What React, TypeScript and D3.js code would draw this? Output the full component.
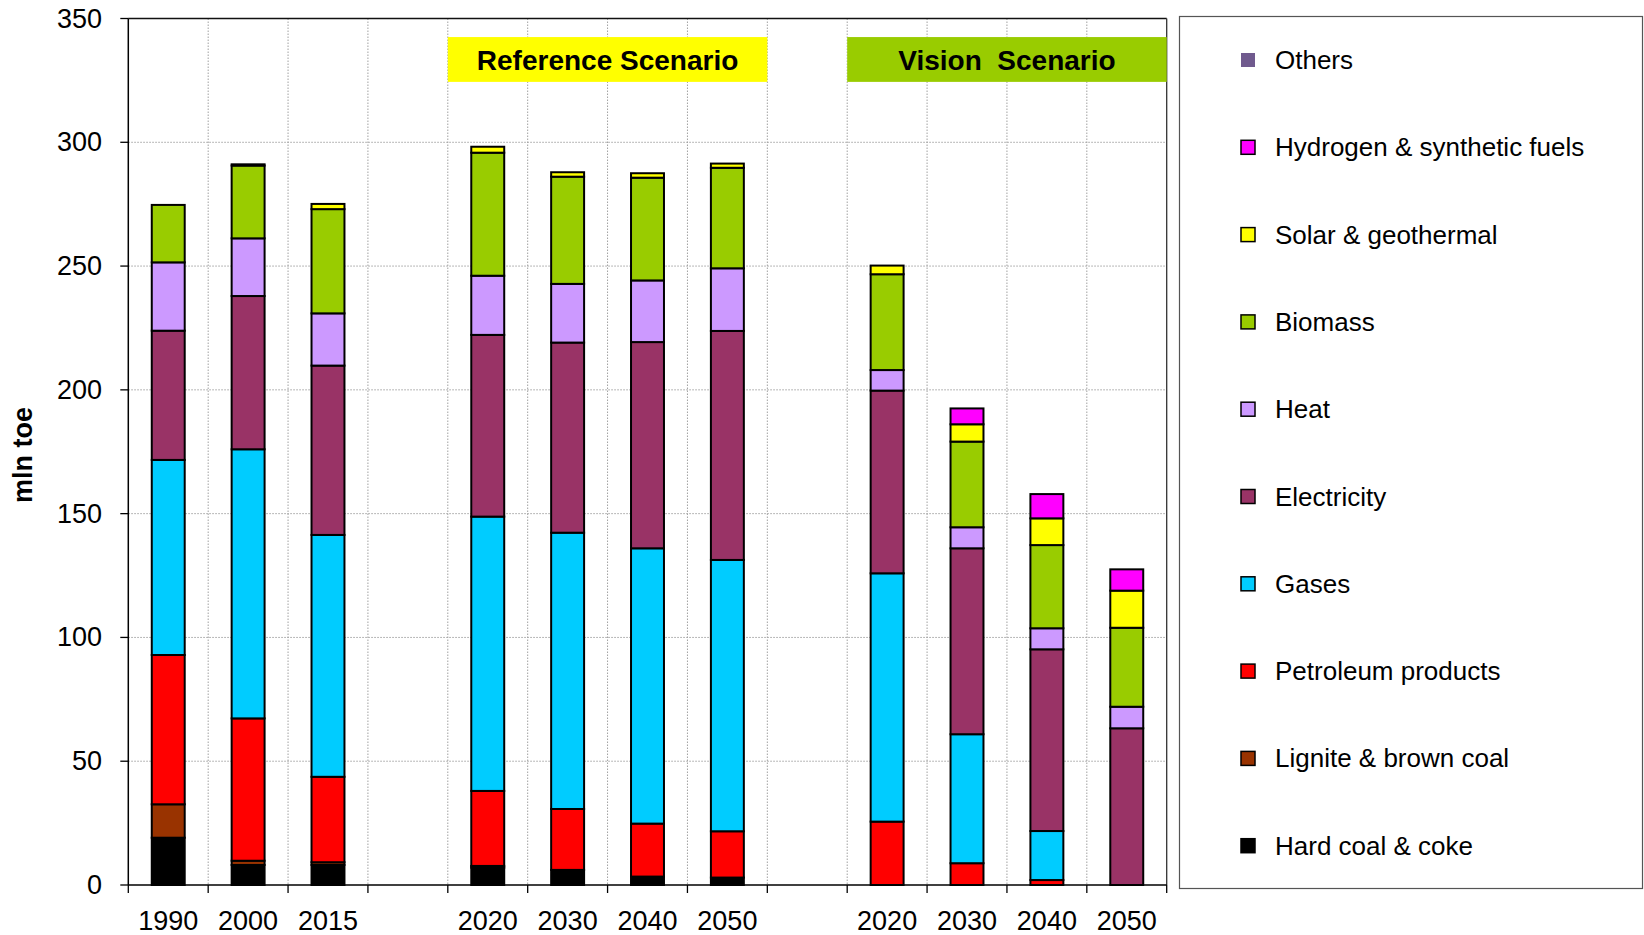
import React from "react";
import * as d3 from "d3";

// Final energy demand by carrier, mln toe
const slots = ["1990", "2000", "2015", "", "2020", "2030", "2040", "2050", "", "2020", "2030", "2040", "2050"];

const hardCoal = [19.1, 8.1, 8.1, 0, 7.0, 6.1, 3.4, 3.0, 0, 0, 0, 0, 0];
const lignite = [13.5, 1.7, 1.1, 0, 0.7, 0, 0, 0, 0, 0, 0, 0, 0];
const petroleum = [60.3, 57.5, 34.5, 0, 30.3, 24.6, 21.4, 18.7, 0, 25.6, 8.8, 2.0, 0];
const gases = [78.8, 108.7, 97.7, 0, 110.8, 111.6, 111.2, 109.6, 0, 100.3, 52.1, 19.8, 0];
const electricity = [52.2, 61.9, 68.4, 0, 73.4, 76.8, 83.3, 92.5, 0, 73.8, 75.1, 73.4, 63.3];
const heat = [27.6, 23.3, 21.1, 0, 23.9, 23.7, 24.9, 25.3, 0, 8.3, 8.5, 8.5, 8.7];
const biomass = [23.2, 29.4, 42.1, 0, 49.7, 43.3, 41.5, 40.6, 0, 38.7, 34.6, 33.6, 31.9];
const solar = [0, 0.5, 2.1, 0, 2.4, 1.8, 1.8, 1.7, 0, 3.5, 7.0, 10.8, 15.0];
const hydrogen = [0, 0, 0, 0, 0, 0, 0, 0, 0, 0, 6.4, 9.8, 8.6];
const others = [0, 0, 0, 0, 0, 0, 0, 0, 0, 0, 0, 0, 0];

const seriesNames = [
  "Hard coal & coke",
  "Lignite & brown coal",
  "Petroleum products",
  "Gases",
  "Electricity",
  "Heat",
  "Biomass",
  "Solar & geothermal",
  "Hydrogen & synthetic fuels",
  "Others",
];
const seriesValues = [hardCoal, lignite, petroleum, gases, electricity, heat, biomass, solar, hydrogen, others];
const seriesColors = ["#000000", "#993300", "#FF0000", "#00CCFF", "#993366", "#CC99FF", "#99CC00", "#FFFF00", "#FF00FF", "#705A8E"];

const yTicks = [0, 50, 100, 150, 200, 250, 300, 350];

const scenarios = [
  { label: "Reference Scenario", from: 4, to: 8, color: "#FFFF00" },
  { label: "Vision  Scenario", from: 9, to: 13, color: "#99CC00" },
];
const scenarioBand = [324.4, 342.5];

const FONT = "'Liberation Sans', Arial, Helvetica, sans-serif";

export default function App() {
  const W = 1644;
  const H = 935;
  const left = 128.3;
  const right = 1166.7;
  const top = 18.5;
  const bottom = 885;

  const idx = slots.map((_, i) => i);
  const x = d3
    .scaleBand<number>()
    .domain(idx)
    .range([left, right])
    .paddingInner(0.5875)
    .paddingOuter(0.5875 / 2);
  const step = x.step();
  const boundary = (i: number) => left + i * step;

  const y = d3.scaleLinear().domain([0, 350]).range([bottom, top]);

  const keys = seriesNames.map((_, k) => k);
  const table = idx.map((i) => {
    const row: Record<string, number> = {};
    keys.forEach((k) => (row[k] = seriesValues[k][i]));
    return row;
  });
  const stack = d3.stack<Record<string, number>>().keys(keys.map(String));
  const layers = stack(table);

  const legendOrder = [...keys].reverse();

  return (
    <svg
      width={W}
      height={H}
      style={{ position: "absolute", left: 0, top: 0, display: "block", background: "#fff" }}
      fontFamily={FONT}
    >
      {/* grid */}
      {yTicks
        .filter((t) => t > 0 && t < 350)
        .map((t) => (
          <line key={"gy" + t} x1={left} x2={right} y1={y(t)} y2={y(t)} stroke="#a0a0a0" strokeWidth={1} strokeDasharray="1.5,1.5" />
        ))}
      {d3.range(1, slots.length).map((i) => (
        <line key={"gx" + i} x1={boundary(i)} x2={boundary(i)} y1={top} y2={bottom} stroke="#a0a0a0" strokeWidth={1} strokeDasharray="1.5,1.5" />
      ))}

      {/* plot frame */}
      <line x1={left} x2={right} y1={top} y2={top} stroke="#111" strokeWidth={1.3} />
      <line x1={right} x2={right} y1={top} y2={bottom} stroke="#333" strokeWidth={1.3} />

      {/* scenario headers */}
      {scenarios.map((s) => {
        const x0 = boundary(s.from);
        const x1 = Math.min(boundary(s.to), right);
        const y0 = y(scenarioBand[1]);
        const y1 = y(scenarioBand[0]);
        return (
          <g key={s.label}>
            <rect x={x0} y={y0} width={x1 - x0} height={y1 - y0} fill={s.color} />
            <text
              x={(x0 + x1) / 2}
              y={(y0 + y1) / 2 + 1}
              textAnchor="middle"
              dominantBaseline="central"
              fontSize={28}
              fontWeight="bold"
              fill="#000"
              style={{ whiteSpace: "pre" }}
            >
              {s.label}
            </text>
          </g>
        );
      })}

      {/* stacked bars */}
      {layers.map((layer, k) => (
        <g key={"s" + k}>
          {layer.map((d, i) => {
            const v = d[1] - d[0];
            if (!v) return null;
            return (
              <rect
                key={i}
                x={x(i)}
                y={y(d[1])}
                width={x.bandwidth()}
                height={y(d[0]) - y(d[1])}
                fill={seriesColors[k]}
                stroke="#000"
                strokeWidth={2}
              />
            );
          })}
        </g>
      ))}

      {/* y axis */}
      <line x1={left} x2={left} y1={top} y2={bottom} stroke="#000" strokeWidth={1.5} />
      {yTicks.map((t) => (
        <g key={"yt" + t}>
          <line x1={left - 8} x2={left} y1={y(t)} y2={y(t)} stroke="#000" strokeWidth={1.3} />
          <text x={102} y={y(t)} textAnchor="end" dominantBaseline="central" fontSize={27} fill="#000">
            {t}
          </text>
        </g>
      ))}
      <text
        transform={`translate(23,455) rotate(-90)`}
        textAnchor="middle"
        dominantBaseline="central"
        fontSize={27}
        fontWeight="bold"
        fill="#000"
      >
        mln toe
      </text>

      {/* x axis */}
      <line x1={left} x2={right} y1={bottom} y2={bottom} stroke="#000" strokeWidth={1.5} />
      {d3.range(0, slots.length + 1).map((i) => (
        <line key={"xt" + i} x1={boundary(i)} x2={boundary(i)} y1={bottom} y2={bottom + 8} stroke="#000" strokeWidth={1.3} />
      ))}
      {slots.map((s, i) =>
        s ? (
          <text key={"xl" + i} x={x(i)! + x.bandwidth() / 2} y={930} textAnchor="middle" fontSize={27} fill="#000">
            {s}
          </text>
        ) : null
      )}

      {/* legend */}
      <rect x={1179.5} y={16.5} width={463} height={872} fill="#fff" stroke="#555" strokeWidth={1.2} />
      {legendOrder.map((k, j) => {
        const cy = 60 + j * 87.3;
        const isOthers = seriesNames[k] === "Others";
        return (
          <g key={"lg" + k}>
            <rect
              x={1241}
              y={cy - 7}
              width={14}
              height={14}
              fill={seriesColors[k]}
              stroke={isOthers ? "none" : "#000"}
              strokeWidth={1.5}
            />
            <text x={1275} y={cy} dominantBaseline="central" fontSize={26} fill="#000">
              {seriesNames[k]}
            </text>
          </g>
        );
      })}
    </svg>
  );
}
